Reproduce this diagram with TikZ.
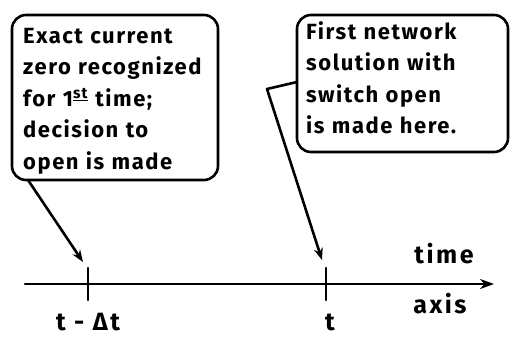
\documentclass[tikz,border=0pt]{standalone}
\usepackage{fontspec}
\setmainfont{Fira Sans}
\usetikzlibrary{arrows.meta}
\begin{document}
\begin{tikzpicture}[x=1pt,y=-1pt,
  ink/.style={line width=2.6pt, line cap=round, line join=round},
  callbox/.style={ink, draw, rounded corners=14pt, anchor=center, inner sep=0pt},
  boxtext/.style={align=left, anchor=north west, inner sep=0pt,
    font=\bfseries\fontsize{22}{31.5}\selectfont\addfontfeatures{LetterSpace=7}},
  lbl/.style={font=\bfseries\fontsize{25}{28}\selectfont\addfontfeatures{LetterSpace=10}, inner sep=0pt},
  pointer/.style={ink, -{Stealth[length=12pt,width=9pt]}}]
\useasboundingbox (0,0) rectangle (513,337);
\node[callbox, minimum width=206pt, minimum height=165pt] (lbox) at (115,97.5) {};
\node[boxtext, text width=188pt] (ltext) at (23,28)
  {Exact current\\zero recognized\\for 1\textsuperscript{\underline{st}} time;\\decision to\\open is made};
\node[callbox, minimum width=211pt, minimum height=137pt] (rbox) at (402.5,83.5) {};
\node[boxtext, text width=195pt] (rtext) at (306,21)
  {First network\\solution with\\switch open\\is made here.};
% axis
\coordinate (a0) at (25,284);
\coordinate (a1) at (494,284);
\draw[ink, -{Stealth[length=14pt,width=10pt]}] (a0) -- (a1);
\coordinate (t1top) at (88,268);
\coordinate (t1bot) at (88,300);
\coordinate (t2top) at (326,268);
\coordinate (t2bot) at (326,300);
\draw[ink] (t1top) -- (t1bot);
\draw[ink] (t2top) -- (t2bot);
% pointers
\coordinate (lstart) at (28,180);
\coordinate (ltip) at (83,262);
\draw[pointer] (lstart) -- (ltip);
\coordinate (rstart) at (297,82);
\coordinate (rbend) at (267,89);
\coordinate (rtip) at (322,260);
\draw[pointer] (rstart) -- (rbend) -- (rtip);
% labels
\node[lbl] (l1) at (88,322) {t - Δt};
\node[lbl] (l2) at (330,322) {t};
\node[lbl] (l3) at (444,254) {time};
\node[lbl] (l4) at (440,304) {axis};
\end{tikzpicture}
\end{document}
